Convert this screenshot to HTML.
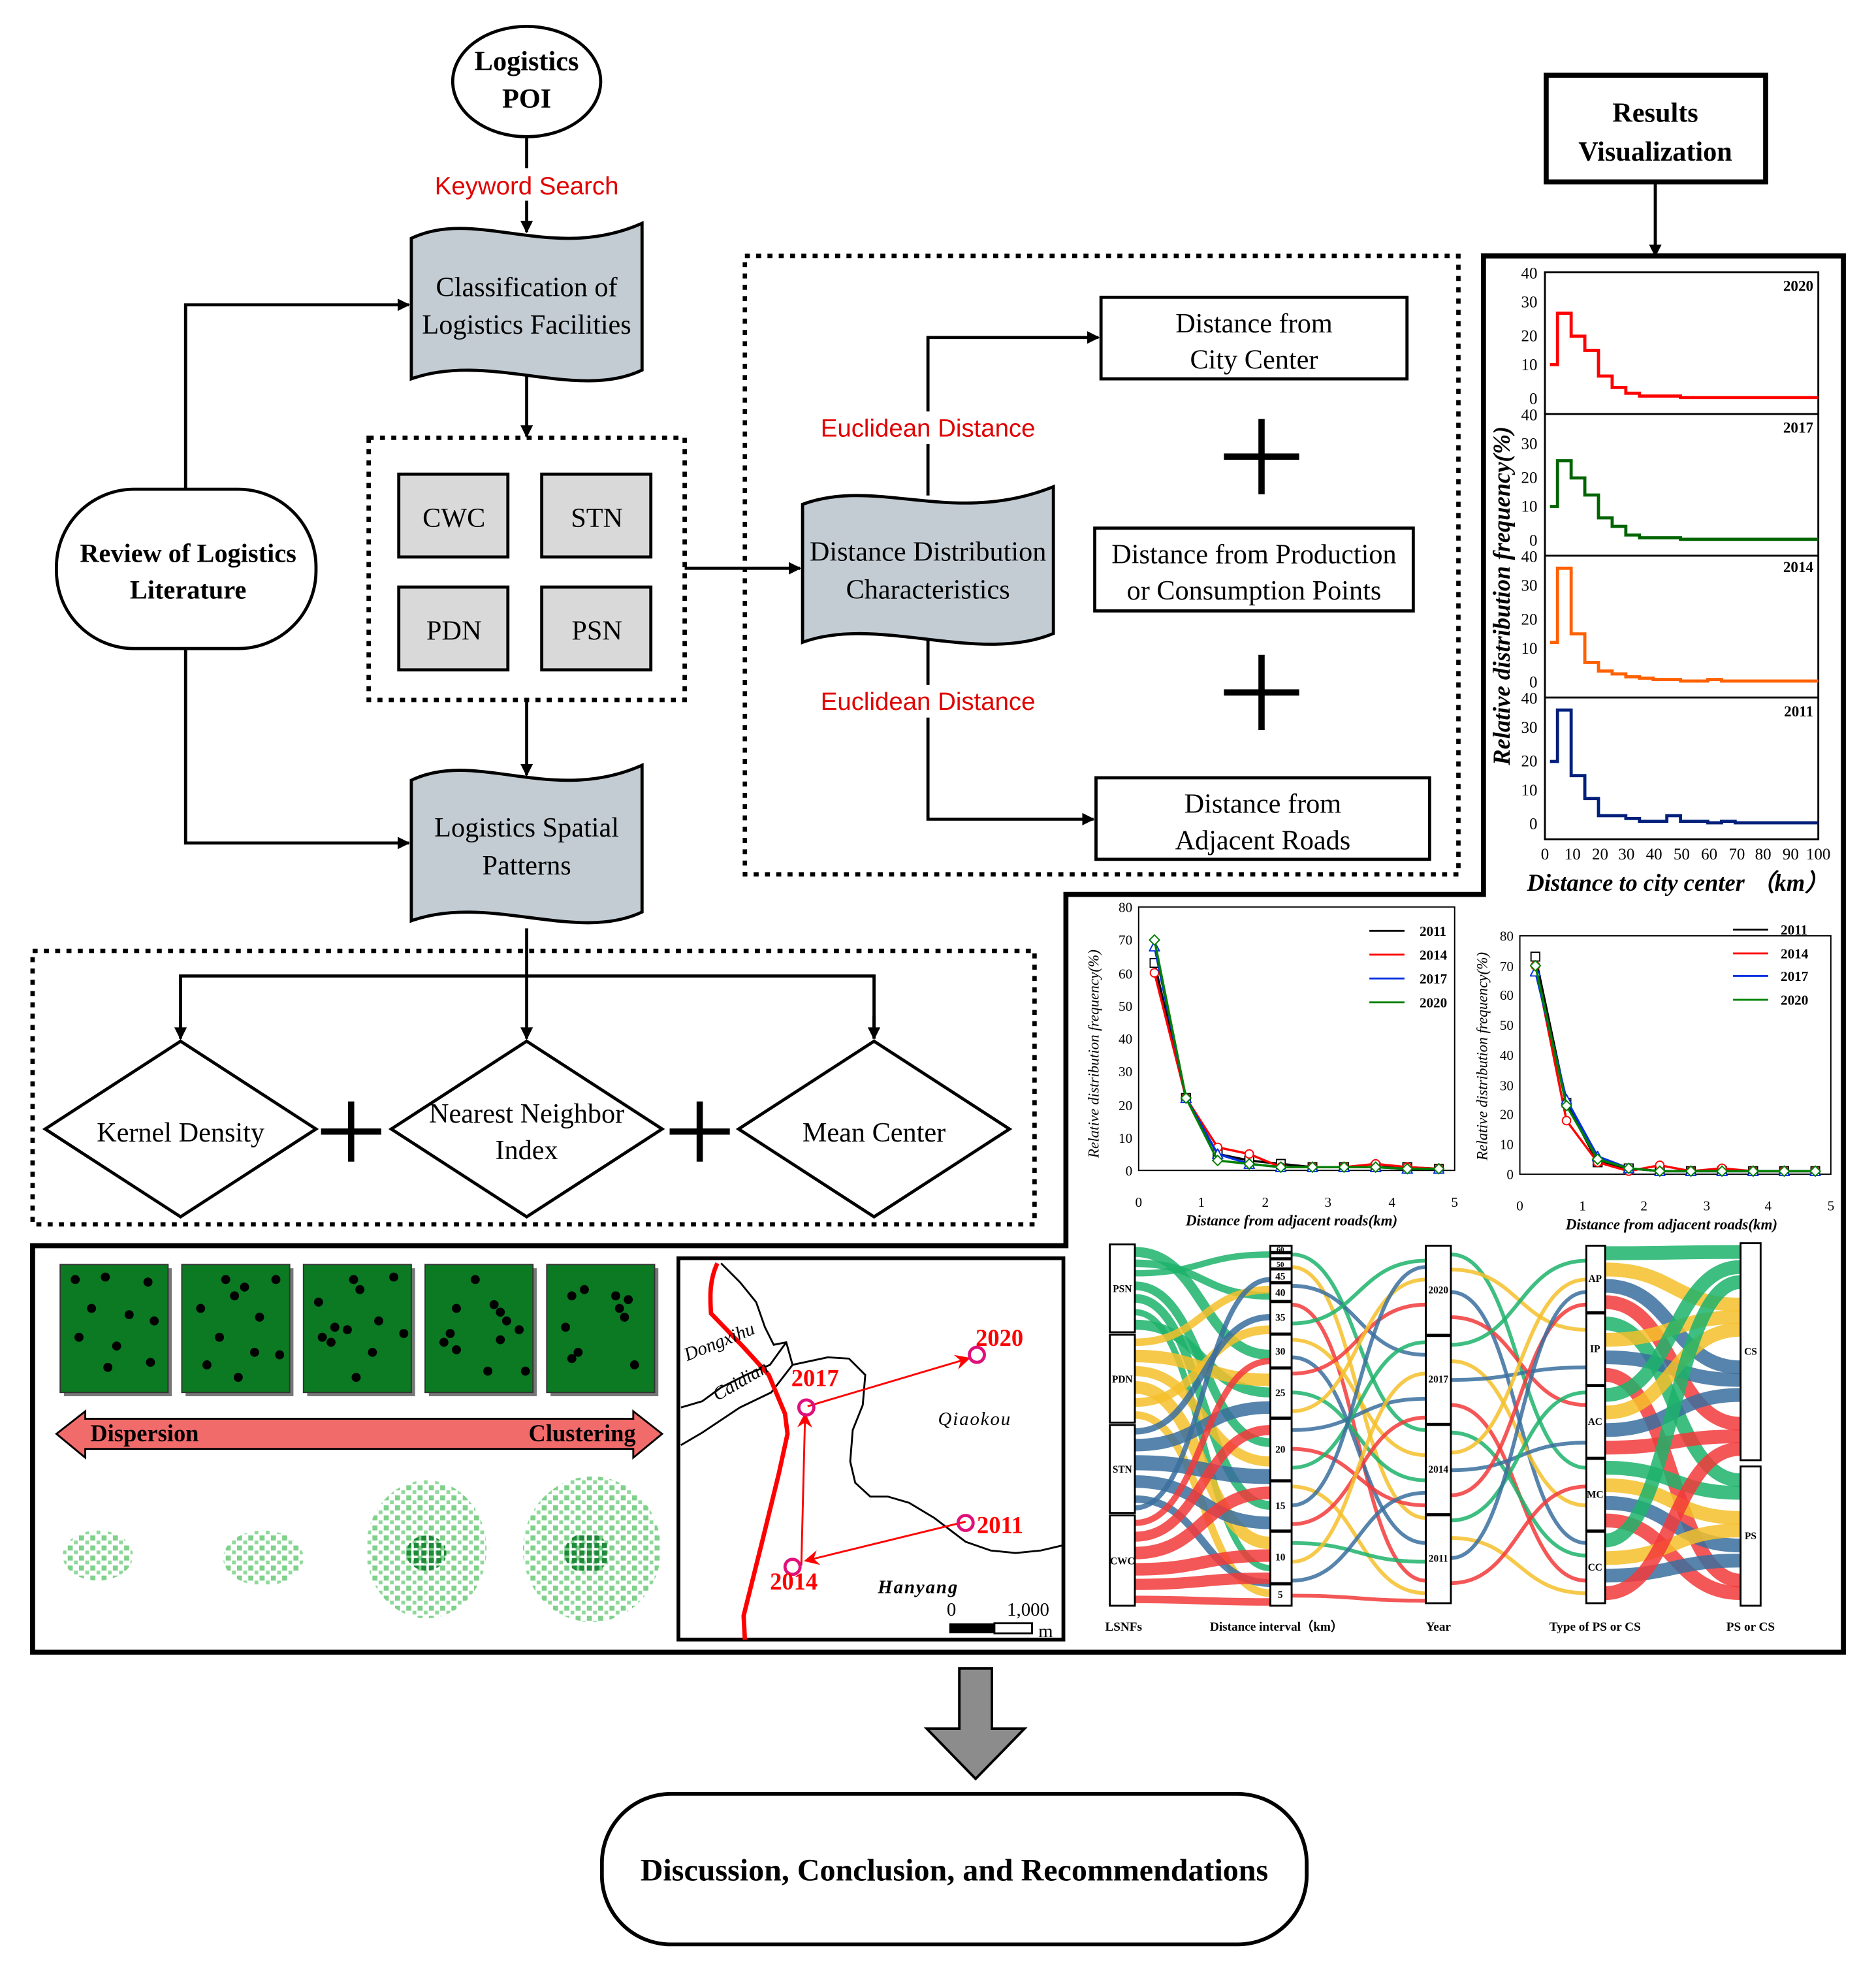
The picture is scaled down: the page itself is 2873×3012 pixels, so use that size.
<!DOCTYPE html>
<html><head><meta charset="utf-8"><style>
html,body{margin:0;padding:0;background:#fff}
svg{display:block}
.s{font-family:"Liberation Serif",serif}
.a{font-family:"Liberation Sans",sans-serif}
</style></head><body>
<svg width="2873" height="3012" viewBox="0 0 1496 1568" preserveAspectRatio="none" xmlns="http://www.w3.org/2000/svg">
<defs>
<marker id="ar" markerWidth="10" markerHeight="10" refX="9" refY="5" orient="auto" markerUnits="userSpaceOnUse"><path d="M0,0 L10,5 L0,10 z" fill="#000"/></marker>
<marker id="rr" markerWidth="12" markerHeight="12" refX="10" refY="6" orient="auto" markerUnits="userSpaceOnUse"><path d="M0,0 L12,6 L0,12 L4,6 z" fill="#f00"/></marker>
<marker id="mk0" markerWidth="8" markerHeight="8" refX="4" refY="4" markerUnits="userSpaceOnUse"><rect x="0.5" y="0.5" width="7" height="7" fill="#fff" stroke="#000"/></marker>
<marker id="mk1" markerWidth="8" markerHeight="8" refX="4" refY="4" markerUnits="userSpaceOnUse"><circle cx="4" cy="4" r="3.3" fill="#fff" stroke="#f00"/></marker>
<marker id="mk2" markerWidth="9" markerHeight="9" refX="4.5" refY="4.5" markerUnits="userSpaceOnUse"><path d="M4.5,0.5 L8.5,8 L0.5,8 Z" fill="#fff" stroke="#0030e0"/></marker>
<marker id="mk3" markerWidth="9" markerHeight="9" refX="4.5" refY="4.5" markerUnits="userSpaceOnUse"><path d="M4.5,0.5 L8.5,4.5 L4.5,8.5 L0.5,4.5 Z" fill="#fff" stroke="#008000"/></marker>
<pattern id="lg" width="9" height="8" patternUnits="userSpaceOnUse"><rect x="0" y="0" width="4" height="4" fill="#7fd08a"/><rect x="5" y="4" width="3" height="3" fill="#8fd99a"/></pattern>
<pattern id="dg" width="6" height="6" patternUnits="userSpaceOnUse"><rect x="0" y="0" width="4" height="4" fill="#1f8a3a"/></pattern>
</defs>
<rect width="1496" height="1568" fill="#fff"/>
<g class="s" fill="none" stroke="#000" stroke-width="2.5">
<ellipse cx="420" cy="65" rx="59" ry="44" fill="#fff"/>
<line x1="420" y1="110" x2="420" y2="185" marker-end="url(#ar)"/>
<path d="M328,190 C380,165 440,210 512,178 L512,295 C460,320 390,280 328,302 Z" fill="#c3ccd3"/>
<line x1="420" y1="300" x2="420" y2="348" marker-end="url(#ar)"/>
<rect x="45" y="390" width="207" height="127" rx="62" fill="#fff"/>
<polyline points="148,390 148,243 326,243" marker-end="url(#ar)"/>
<polyline points="148,517 148,672 326,672" marker-end="url(#ar)"/>
<rect x="294" y="349" width="252" height="209" stroke-dasharray="4,5" stroke-width="3.5"/>
<rect x="318" y="378" width="87" height="66" fill="#d9d9d9"/>
<rect x="432" y="378" width="87" height="66" fill="#d9d9d9"/>
<rect x="318" y="468" width="87" height="66" fill="#d9d9d9"/>
<rect x="432" y="468" width="87" height="66" fill="#d9d9d9"/>
<line x1="546" y1="453" x2="638" y2="453" marker-end="url(#ar)"/>
<line x1="420" y1="558" x2="420" y2="618" marker-end="url(#ar)"/>
<path d="M328,622 C380,597 440,642 512,610 L512,727 C460,752 390,712 328,734 Z" fill="#c3ccd3"/>
<rect x="594" y="204" width="569" height="493" stroke-dasharray="4,5" stroke-width="3.5"/>
<path d="M640,402 C700,380 760,420 840,388 L840,505 C780,530 700,490 640,512 Z" fill="#c3ccd3"/>
<polyline points="740,395 740,269 876,269" marker-end="url(#ar)"/>
<polyline points="740,510 740,653 872,653" marker-end="url(#ar)"/>
<rect x="878" y="237" width="244" height="65"/>
<rect x="873" y="421" width="254" height="66"/>
<rect x="874" y="620" width="266" height="65"/>
<g stroke-width="5"><line x1="976" y1="364" x2="1036" y2="364"/><line x1="1006" y1="334" x2="1006" y2="394"/>
<line x1="976" y1="552" x2="1036" y2="552"/><line x1="1006" y1="522" x2="1006" y2="582"/>
<line x1="256" y1="902" x2="304" y2="902"/><line x1="280" y1="878" x2="280" y2="926"/>
<line x1="534" y1="902" x2="582" y2="902"/><line x1="558" y1="878" x2="558" y2="926"/></g>
<rect x="26" y="758" width="799" height="218" stroke-dasharray="4,5" stroke-width="3.5"/>
<line x1="420" y1="740" x2="420" y2="828" marker-end="url(#ar)"/>
<polyline points="144,828 144,778 697,778 697,828"/>
<line x1="144" y1="810" x2="144" y2="828" marker-end="url(#ar)"/>
<line x1="697" y1="810" x2="697" y2="828" marker-end="url(#ar)"/>
<path d="M144,830 L252,900 L144,970 L36,900 Z" fill="#fff"/>
<path d="M420,830 L528,900 L420,970 L312,900 Z" fill="#fff"/>
<path d="M697,830 L805,900 L697,970 L589,900 Z" fill="#fff"/>
<rect x="1233" y="60" width="175" height="85" stroke-width="4"/>
<line x1="1320" y1="145" x2="1320" y2="204" marker-end="url(#ar)"/>
<path d="M26,993 L850,993 L850,713 L1183,713 L1183,204 L1470,204 L1470,1317 L26,1317 Z" stroke-width="4"/>
<rect x="541" y="1003" width="307" height="304" stroke-width="3"/>
<path d="M765,1330 L791,1330 L791,1378 L817,1378 L778,1418 L739,1378 L765,1378 Z" fill="#8c8c8c" stroke-width="2"/>
<rect x="480" y="1430" width="562" height="120" rx="55" stroke-width="3"/>
</g>
<rect x="342" y="134" width="156" height="26" fill="#fff"/>
<rect x="655" y="328" width="170" height="26" fill="#fff"/>
<rect x="655" y="546" width="170" height="26" fill="#fff"/>
<g class="s" font-size="22" text-anchor="middle" fill="#000">
<text x="420" y="56" font-weight="bold">Logistics</text>
<text x="420" y="86" font-weight="bold">POI</text>
<text x="420" y="236">Classification of</text>
<text x="420" y="266">Logistics Facilities</text>
<text x="150" y="448" font-weight="bold" font-size="21">Review of Logistics</text>
<text x="150" y="477" font-weight="bold" font-size="21">Literature</text>
<text x="362" y="420">CWC</text><text x="476" y="420">STN</text>
<text x="362" y="510">PDN</text><text x="476" y="510">PSN</text>
<text x="420" y="667">Logistics Spatial</text>
<text x="420" y="697">Patterns</text>
<text x="740" y="447">Distance Distribution</text>
<text x="740" y="477">Characteristics</text>
<text x="1000" y="265">Distance from</text><text x="1000" y="294">City Center</text>
<text x="1000" y="449">Distance from Production</text><text x="1000" y="478">or Consumption Points</text>
<text x="1007" y="648">Distance from</text><text x="1007" y="677">Adjacent Roads</text>
<text x="144" y="910">Kernel Density</text>
<text x="420" y="895">Nearest Neighbor</text><text x="420" y="924">Index</text>
<text x="697" y="910">Mean Center</text>
<text x="1320" y="97" font-weight="bold">Results</text>
<text x="1320" y="128" font-weight="bold">Visualization</text>
<text x="761" y="1499" font-weight="bold" font-size="25">Discussion, Conclusion, and Recommendations</text>
</g>
<g class="a" font-size="20" fill="#e00000" text-anchor="middle">
<text x="420" y="155">Keyword Search</text>
<text x="740" y="348">Euclidean Distance</text>
<text x="740" y="566">Euclidean Distance</text>
</g>

<!-- histograms -->
<g fill="none" stroke="#000" stroke-width="1.5">
<rect x="1232" y="217" width="218" height="452"/>
<line x1="1232" y1="330" x2="1450" y2="330"/><line x1="1232" y1="443" x2="1450" y2="443"/><line x1="1232" y1="556" x2="1450" y2="556"/>
</g>
<g fill="none" stroke-width="2.5">
<path stroke="#f00" d="M1236,290.7 h6 V249.7 h10.9 V268 h10.9 V279.3 h10.9 V299.8 h10.9 V308.9 h10.9 V313.5 h10.9 V315.7 h32.7 V316.9 H1450"/>
<path stroke="#006400" d="M1236,403.7 h6 V367.3 h10.9 V381 h10.9 V394.6 h10.9 V412.8 h10.9 V419.6 h10.9 V426.5 h10.9 V428.7 h32.7 V429.9 H1450"/>
<path stroke="#ff6000" d="M1236,512.1 h6 V453 h10.9 V505.3 h10.9 V528.1 h10.9 V534.9 h10.9 V537.2 h10.9 V539.5 h10.9 V540.6 h10.9 V541.7 h21.8 V542.9 h21.8 V541.7 h10.9 V542.9 H1450"/>
<path stroke="#001f7a" d="M1236,607 h6 V566 h10.9 V618.3 h10.9 V636.5 h10.9 V650.2 h21.8 V652.5 h10.9 V654.7 h21.8 V650.2 h10.9 V654.7 h21.8 V655.9 h10.9 V654.7 h10.9 V655.9 H1450"/>
</g>
<g class="s" font-size="13" text-anchor="end">
<text x="1226" y="222">40</text><text x="1226" y="245">30</text><text x="1226" y="272">20</text><text x="1226" y="295">10</text><text x="1226" y="322">0</text>
<text x="1226" y="335">40</text><text x="1226" y="358">30</text><text x="1226" y="385">20</text><text x="1226" y="408">10</text><text x="1226" y="435">0</text>
<text x="1226" y="448">40</text><text x="1226" y="471">30</text><text x="1226" y="498">20</text><text x="1226" y="521">10</text><text x="1226" y="548">0</text>
<text x="1226" y="561">40</text><text x="1226" y="584">30</text><text x="1226" y="611">20</text><text x="1226" y="634">10</text><text x="1226" y="661">0</text>
</g>
<g class="s" font-size="12" font-weight="bold" text-anchor="end">
<text x="1446" y="232">2020</text><text x="1446" y="345">2017</text><text x="1446" y="456">2014</text><text x="1446" y="571">2011</text>
</g>
<g class="s" font-size="13" text-anchor="middle">
<text x="1232" y="685">0</text><text x="1254" y="685">10</text><text x="1276" y="685">20</text><text x="1297" y="685">30</text><text x="1319" y="685">40</text><text x="1341" y="685">50</text><text x="1363" y="685">60</text><text x="1385" y="685">70</text><text x="1406" y="685">80</text><text x="1428" y="685">90</text><text x="1450" y="685">100</text>
</g>
<text class="s" x="1204" y="610" font-size="19" font-weight="bold" font-style="italic" transform="rotate(-90 1204 610)">Relative distribution frequency(%)</text>
<text class="s" x="1338" y="710" font-size="19" font-weight="bold" font-style="italic" text-anchor="middle">Distance to city center （km）</text>

<!-- line chart left -->
<g class="s" font-size="11">
<rect x="908" y="723" width="252" height="210" fill="none" stroke="#000"/>
<g text-anchor="end"><text x="903" y="937">0</text><text x="903" y="911">10</text><text x="903" y="885">20</text><text x="903" y="858">30</text><text x="903" y="832">40</text><text x="903" y="806">50</text><text x="903" y="780">60</text><text x="903" y="753">70</text><text x="903" y="727">80</text></g>
<g text-anchor="middle"><text x="908" y="962">0</text><text x="958" y="962">1</text><text x="1009" y="962">2</text><text x="1059" y="962">3</text><text x="1110" y="962">4</text><text x="1160" y="962">5</text></g>
<text x="1030" y="977" text-anchor="middle" font-weight="bold" font-style="italic" font-size="12">Distance from adjacent roads(km)</text>
<text x="876" y="840" text-anchor="middle" font-style="italic" font-size="12" transform="rotate(-90 876 840)">Relative distribution frequency(%)</text>
<g fill="none" stroke-width="1.8">
<polyline stroke="#000" marker-start="url(#mk0)" marker-mid="url(#mk0)" marker-end="url(#mk0)" points="920.6,767.6 945.8,875.3 971,919.9 996.2,925.1 1021.4,927.8 1046.6,930.4 1071.8,930.4 1097,930.4 1122.2,930.4 1147.4,931.7"/>
<polyline stroke="#f00" marker-start="url(#mk1)" marker-mid="url(#mk1)" marker-end="url(#mk1)" points="920.6,775.5 945.8,875.3 971,914.6 996.2,919.9 1021.4,930.4 1046.6,930.4 1071.8,930.4 1097,927.8 1122.2,930.4 1147.4,931.7"/>
<polyline stroke="#0030e0" marker-start="url(#mk2)" marker-mid="url(#mk2)" marker-end="url(#mk2)" points="920.6,754.5 945.8,875.3 971,919.9 996.2,927.8 1021.4,930.4 1046.6,930.4 1071.8,930.4 1097,930.4 1122.2,931.7 1147.4,931.7"/>
<polyline stroke="#008000" marker-start="url(#mk3)" marker-mid="url(#mk3)" marker-end="url(#mk3)" points="920.6,749.3 945.8,875.3 971,925.1 996.2,927.8 1021.4,930.4 1046.6,930.4 1071.8,930.4 1097,930.4 1122.2,931.7 1147.4,931.7"/>
</g>
<line x1="1092" y1="742" x2="1120" y2="742" stroke="#000" stroke-width="1.5" marker-mid="url(#mk0)"/><text x="1132" y="746" font-weight="bold">2011</text>
<line x1="1092" y1="761" x2="1120" y2="761" stroke="#f00" stroke-width="1.5"/><text x="1132" y="765" font-weight="bold">2014</text>
<line x1="1092" y1="780" x2="1120" y2="780" stroke="#0030e0" stroke-width="1.5"/><text x="1132" y="784" font-weight="bold">2017</text>
<line x1="1092" y1="799" x2="1120" y2="799" stroke="#008000" stroke-width="1.5"/><text x="1132" y="803" font-weight="bold">2020</text>
</g>
<!-- line chart right -->
<g class="s" font-size="11">
<rect x="1212" y="746" width="248" height="190" fill="none" stroke="#000"/>
<g text-anchor="end"><text x="1207" y="940">0</text><text x="1207" y="916">10</text><text x="1207" y="892">20</text><text x="1207" y="869">30</text><text x="1207" y="845">40</text><text x="1207" y="821">50</text><text x="1207" y="797">60</text><text x="1207" y="774">70</text><text x="1207" y="750">80</text></g>
<g text-anchor="middle"><text x="1212" y="965">0</text><text x="1262" y="965">1</text><text x="1311" y="965">2</text><text x="1361" y="965">3</text><text x="1410" y="965">4</text><text x="1460" y="965">5</text></g>
<text x="1333" y="980" text-anchor="middle" font-weight="bold" font-style="italic" font-size="12">Distance from adjacent roads(km)</text>
<text x="1186" y="842" text-anchor="middle" font-style="italic" font-size="12" transform="rotate(-90 1186 842)">Relative distribution frequency(%)</text>
<g fill="none" stroke-width="1.8">
<polyline stroke="#000" marker-start="url(#mk0)" marker-mid="url(#mk0)" marker-end="url(#mk0)" points="1224.4,762.6 1249.2,879 1274,926.5 1298.8,931.3 1323.6,933.6 1348.4,933.6 1373.2,933.6 1398,933.6 1422.8,933.6 1447.6,933.6"/>
<polyline stroke="#f00" marker-start="url(#mk1)" marker-mid="url(#mk1)" marker-end="url(#mk1)" points="1224.4,769.8 1249.2,893.3 1274,926.5 1298.8,933.6 1323.6,928.9 1348.4,933.6 1373.2,931.3 1398,933.6 1422.8,933.6 1447.6,933.6"/>
<polyline stroke="#0030e0" marker-start="url(#mk2)" marker-mid="url(#mk2)" marker-end="url(#mk2)" points="1224.4,774.5 1249.2,876.6 1274,921.8 1298.8,931.3 1323.6,933.6 1348.4,933.6 1373.2,933.6 1398,933.6 1422.8,933.6 1447.6,933.6"/>
<polyline stroke="#008000" marker-start="url(#mk3)" marker-mid="url(#mk3)" marker-end="url(#mk3)" points="1224.4,769.8 1249.2,881.4 1274,924.1 1298.8,931.3 1323.6,933.6 1348.4,933.6 1373.2,933.6 1398,933.6 1422.8,933.6 1447.6,933.6"/>
</g>
<line x1="1382" y1="741" x2="1410" y2="741" stroke="#000" stroke-width="1.5"/><text x="1420" y="745" font-weight="bold">2011</text>
<line x1="1382" y1="760" x2="1410" y2="760" stroke="#f00" stroke-width="1.5"/><text x="1420" y="764" font-weight="bold">2014</text>
<line x1="1382" y1="778" x2="1410" y2="778" stroke="#0030e0" stroke-width="1.5"/><text x="1420" y="782" font-weight="bold">2017</text>
<line x1="1382" y1="797" x2="1410" y2="797" stroke="#008000" stroke-width="1.5"/><text x="1420" y="801" font-weight="bold">2020</text>
</g>

<!-- sankey -->
<g fill="none" stroke-opacity="0.85">
<g stroke="#1db36b">
<path stroke-width="8" d="M905,998 C959,998 959,1080 1013,1080"/>
<path stroke-width="6" d="M905,1007 C959,1007 959,1033 1013,1033"/>
<path stroke-width="5" d="M905,1015 C959,1015 959,1000 1013,1000"/>
<path stroke-width="7" d="M905,1025 C959,1025 959,1150 1013,1150"/>
<path stroke-width="7" d="M905,1035 C959,1035 959,1200 1013,1200"/>
<path stroke-width="5" d="M905,1046 C959,1046 959,1250 1013,1250"/>
<path stroke-width="8" d="M905,1056 C959,1056 959,1110 1013,1110"/>
</g>
<g stroke="#f5c02a">
<path stroke-width="6" d="M905,1070 C959,1070 959,1028 1013,1028"/>
<path stroke-width="10" d="M905,1081 C959,1081 959,1100 1013,1100"/>
<path stroke-width="8" d="M905,1093 C959,1093 959,1165 1013,1165"/>
<path stroke-width="10" d="M905,1106 C959,1106 959,1230 1013,1230"/>
<path stroke-width="7" d="M905,1118 C959,1118 959,1060 1013,1060"/>
<path stroke-width="6" d="M905,1128 C959,1128 959,1270 1013,1270"/>
</g>
<g stroke="#3a6e9e">
<path stroke-width="5" d="M905,1141 C959,1141 959,1050 1013,1050"/>
<path stroke-width="10" d="M905,1152 C959,1152 959,1122 1013,1122"/>
<path stroke-width="12" d="M905,1166 C959,1166 959,1177 1013,1177"/>
<path stroke-width="10" d="M905,1181 C959,1181 959,1214 1013,1214"/>
<path stroke-width="6" d="M905,1195 C959,1195 959,1262 1013,1262"/>
<path stroke-width="4" d="M905,1202 C959,1202 959,1020 1013,1020"/>
</g>
<g stroke="#f23a3a">
<path stroke-width="5" d="M905,1214 C959,1214 959,1085 1013,1085"/>
<path stroke-width="8" d="M905,1225 C959,1225 959,1140 1013,1140"/>
<path stroke-width="10" d="M905,1238 C959,1238 959,1190 1013,1190"/>
<path stroke-width="10" d="M905,1251 C959,1251 959,1240 1013,1240"/>
<path stroke-width="9" d="M905,1263 C959,1263 959,1258 1013,1258"/>
<path stroke-width="6" d="M905,1275 C959,1275 959,1277 1013,1277"/>
</g>
<g stroke-width="3">
<path stroke="#1db36b" d="M1030,1000 C1083,1000 1083,1140 1137,1140"/>
<path stroke="#f5c02a" d="M1030,1010 C1083,1010 1083,1210 1137,1210"/>
<path stroke="#3a6e9e" d="M1030,1025 C1083,1025 1083,1080 1137,1080"/>
<path stroke="#f23a3a" d="M1030,1040 C1083,1040 1083,1260 1137,1260"/>
<path stroke="#1db36b" d="M1030,1055 C1083,1055 1083,1005 1137,1005"/>
<path stroke="#f5c02a" d="M1030,1068 C1083,1068 1083,1160 1137,1160"/>
<path stroke="#3a6e9e" d="M1030,1082 C1083,1082 1083,1230 1137,1230"/>
<path stroke="#f23a3a" d="M1030,1095 C1083,1095 1083,1040 1137,1040"/>
<path stroke="#1db36b" d="M1030,1110 C1083,1110 1083,1180 1137,1180"/>
<path stroke="#f5c02a" d="M1030,1125 C1083,1125 1083,1020 1137,1020"/>
<path stroke="#3a6e9e" d="M1030,1140 C1083,1140 1083,1115 1137,1115"/>
<path stroke="#f23a3a" d="M1030,1155 C1083,1155 1083,1200 1137,1200"/>
<path stroke="#1db36b" d="M1030,1170 C1083,1170 1083,1070 1137,1070"/>
<path stroke="#f5c02a" d="M1030,1185 C1083,1185 1083,1270 1137,1270"/>
<path stroke="#3a6e9e" d="M1030,1200 C1083,1200 1083,1010 1137,1010"/>
<path stroke="#f23a3a" d="M1030,1215 C1083,1215 1083,1130 1137,1130"/>
<path stroke="#1db36b" d="M1030,1230 C1083,1230 1083,1245 1137,1245"/>
<path stroke="#f5c02a" d="M1030,1245 C1083,1245 1083,1095 1137,1095"/>
<path stroke="#3a6e9e" d="M1030,1260 C1083,1260 1083,1190 1137,1190"/>
<path stroke="#f23a3a" d="M1030,1272 C1083,1272 1083,1276 1137,1276"/>
<path stroke="#1db36b" d="M1157,1000 C1211,1000 1211,1170 1265,1170"/>
<path stroke="#f5c02a" d="M1157,1012 C1211,1012 1211,1060 1265,1060"/>
<path stroke="#3a6e9e" d="M1157,1030 C1211,1030 1211,1230 1265,1230"/>
<path stroke="#f23a3a" d="M1157,1050 C1211,1050 1211,1120 1265,1120"/>
<path stroke="#1db36b" d="M1157,1072 C1211,1072 1211,1005 1265,1005"/>
<path stroke="#f5c02a" d="M1157,1085 C1211,1085 1211,1200 1265,1200"/>
<path stroke="#3a6e9e" d="M1157,1100 C1211,1100 1211,1090 1265,1090"/>
<path stroke="#f23a3a" d="M1157,1120 C1211,1120 1211,1260 1265,1260"/>
<path stroke="#1db36b" d="M1157,1142 C1211,1142 1211,1240 1265,1240"/>
<path stroke="#f5c02a" d="M1157,1158 C1211,1158 1211,1020 1265,1020"/>
<path stroke="#3a6e9e" d="M1157,1172 C1211,1172 1211,1150 1265,1150"/>
<path stroke="#f23a3a" d="M1157,1192 C1211,1192 1211,1040 1265,1040"/>
<path stroke="#1db36b" d="M1157,1212 C1211,1212 1211,1110 1265,1110"/>
<path stroke="#f5c02a" d="M1157,1226 C1211,1226 1211,1270 1265,1270"/>
<path stroke="#3a6e9e" d="M1157,1242 C1211,1242 1211,1030 1265,1030"/>
<path stroke="#f23a3a" d="M1157,1262 C1211,1262 1211,1185 1265,1185"/>
</g>
<g stroke-width="11">
<path stroke="#1db36b" d="M1280,999 C1334,999 1334,998 1388,998"/>
<path stroke="#f5c02a" d="M1280,1012 C1334,1012 1334,1040 1388,1040"/>
<path stroke="#3a6e9e" d="M1280,1025 C1334,1025 1334,1090 1388,1090"/>
<path stroke="#f23a3a" d="M1280,1038 C1334,1038 1334,1135 1388,1135"/>
<path stroke="#1db36b" d="M1280,1055 C1334,1055 1334,1180 1388,1180"/>
<path stroke="#f5c02a" d="M1280,1068 C1334,1068 1334,1050 1388,1050"/>
<path stroke="#3a6e9e" d="M1280,1082 C1334,1082 1334,1100 1388,1100"/>
<path stroke="#f23a3a" d="M1280,1096 C1334,1096 1334,1260 1388,1260"/>
<path stroke="#1db36b" d="M1280,1112 C1334,1112 1334,1010 1388,1010"/>
<path stroke="#f5c02a" d="M1280,1126 C1334,1126 1334,1060 1388,1060"/>
<path stroke="#3a6e9e" d="M1280,1140 C1334,1140 1334,1112 1388,1112"/>
<path stroke="#f23a3a" d="M1280,1154 C1334,1154 1334,1145 1388,1145"/>
<path stroke="#1db36b" d="M1280,1170 C1334,1170 1334,1190 1388,1190"/>
<path stroke="#f5c02a" d="M1280,1184 C1334,1184 1334,1210 1388,1210"/>
<path stroke="#3a6e9e" d="M1280,1198 C1334,1198 1334,1232 1388,1232"/>
<path stroke="#f23a3a" d="M1280,1212 C1334,1212 1334,1270 1388,1270"/>
<path stroke="#1db36b" d="M1280,1228 C1334,1228 1334,1022 1388,1022"/>
<path stroke="#f5c02a" d="M1280,1242 C1334,1242 1334,1220 1388,1220"/>
<path stroke="#3a6e9e" d="M1280,1256 C1334,1256 1334,1244 1388,1244"/>
<path stroke="#f23a3a" d="M1280,1270 C1334,1270 1334,1155 1388,1155"/>
</g>
</g>
<g fill="#fff" stroke="#000" stroke-width="1.5">
<rect x="885" y="992" width="20" height="70"/><rect x="885" y="1064" width="20" height="70"/><rect x="885" y="1136" width="20" height="70"/><rect x="885" y="1208" width="20" height="72"/>
<rect x="1013" y="993" width="17" height="5"/><rect x="1013" y="999" width="17" height="4"/><rect x="1013" y="1004" width="17" height="7"/><rect x="1013" y="1012" width="17" height="10"/><rect x="1013" y="1023" width="17" height="14"/><rect x="1013" y="1038" width="17" height="25"/><rect x="1013" y="1064" width="17" height="26"/><rect x="1013" y="1091" width="17" height="39"/><rect x="1013" y="1131" width="17" height="49"/><rect x="1013" y="1181" width="17" height="39"/><rect x="1013" y="1221" width="17" height="41"/><rect x="1013" y="1263" width="17" height="17"/>
<rect x="1137" y="993" width="20" height="71"/><rect x="1137" y="1065" width="20" height="70"/><rect x="1137" y="1136" width="20" height="71"/><rect x="1137" y="1208" width="20" height="70"/>
<rect x="1265" y="993" width="15" height="53"/><rect x="1265" y="1047" width="15" height="57"/><rect x="1265" y="1105" width="15" height="57"/><rect x="1265" y="1163" width="15" height="57"/><rect x="1265" y="1221" width="15" height="57"/>
<rect x="1388" y="991" width="16" height="173"/><rect x="1388" y="1169" width="16" height="111"/>
</g>
<g class="s" font-size="8" font-weight="bold" text-anchor="middle">
<text x="895" y="1030">PSN</text><text x="895" y="1102">PDN</text><text x="895" y="1174">STN</text><text x="895" y="1247">CWC</text>
<text x="1021" y="998" font-size="6">60</text><text x="1021" y="1010" font-size="6">50</text><text x="1021" y="1020">45</text><text x="1021" y="1033">40</text><text x="1021" y="1053">35</text><text x="1021" y="1080">30</text><text x="1021" y="1113">25</text><text x="1021" y="1158">20</text><text x="1021" y="1203">15</text><text x="1021" y="1244">10</text><text x="1021" y="1274">5</text>
<text x="1147" y="1031">2020</text><text x="1147" y="1102">2017</text><text x="1147" y="1174">2014</text><text x="1147" y="1245">2011</text>
<text x="1272" y="1022">AP</text><text x="1272" y="1078">IP</text><text x="1272" y="1136">AC</text><text x="1272" y="1194">MC</text><text x="1272" y="1252">CC</text>
<text x="1396" y="1080">CS</text><text x="1396" y="1227">PS</text>
</g>
<g class="s" font-size="10" font-weight="bold" text-anchor="middle">
<text x="896" y="1300">LSNFs</text><text x="1018" y="1300">Distance interval（km）</text><text x="1147" y="1300">Year</text><text x="1272" y="1300">Type of PS or CS</text><text x="1396" y="1300">PS or CS</text>
</g>

<!-- green squares -->
<g fill="#777"><rect x="51" y="1011" width="86" height="102"/><rect x="148" y="1011" width="86" height="102"/><rect x="245" y="1011" width="86" height="102"/><rect x="342" y="1011" width="86" height="102"/><rect x="439" y="1011" width="86" height="102"/></g>
<g fill="#0b7a22" stroke="#333"><rect x="48" y="1008" width="86" height="102"/><rect x="145" y="1008" width="86" height="102"/><rect x="242" y="1008" width="86" height="102"/><rect x="339" y="1008" width="86" height="102"/><rect x="436" y="1008" width="86" height="102"/></g>
<g fill="#000">
<circle cx="60" cy="1020" r="3.6"/><circle cx="84" cy="1018" r="3.6"/><circle cx="118" cy="1022" r="3.6"/><circle cx="73" cy="1043" r="3.6"/><circle cx="103" cy="1048" r="3.6"/><circle cx="123" cy="1053" r="3.6"/><circle cx="63" cy="1066" r="3.6"/><circle cx="93" cy="1073" r="3.6"/><circle cx="120" cy="1086" r="3.6"/><circle cx="86" cy="1090" r="3.6"/>
<circle cx="180" cy="1020" r="3.6"/><circle cx="195" cy="1026" r="3.6"/><circle cx="187" cy="1033" r="3.6"/><circle cx="220" cy="1020" r="3.6"/><circle cx="160" cy="1043" r="3.6"/><circle cx="207" cy="1050" r="3.6"/><circle cx="175" cy="1066" r="3.6"/><circle cx="203" cy="1078" r="3.6"/><circle cx="165" cy="1088" r="3.6"/><circle cx="223" cy="1080" r="3.6"/><circle cx="190" cy="1098" r="3.6"/>
<circle cx="282" cy="1020" r="3.6"/><circle cx="287" cy="1028" r="3.6"/><circle cx="254" cy="1038" r="3.6"/><circle cx="314" cy="1018" r="3.6"/><circle cx="267" cy="1058" r="3.6"/><circle cx="277" cy="1060" r="3.6"/><circle cx="257" cy="1066" r="3.6"/><circle cx="302" cy="1053" r="3.6"/><circle cx="264" cy="1070" r="3.6"/><circle cx="322" cy="1063" r="3.6"/><circle cx="297" cy="1078" r="3.6"/><circle cx="284" cy="1098" r="3.6"/>
<circle cx="379" cy="1020" r="3.6"/><circle cx="364" cy="1043" r="3.6"/><circle cx="394" cy="1040" r="3.6"/><circle cx="399" cy="1046" r="3.6"/><circle cx="404" cy="1053" r="3.6"/><circle cx="359" cy="1063" r="3.6"/><circle cx="354" cy="1070" r="3.6"/><circle cx="364" cy="1076" r="3.6"/><circle cx="399" cy="1068" r="3.6"/><circle cx="414" cy="1060" r="3.6"/><circle cx="389" cy="1093" r="3.6"/><circle cx="419" cy="1093" r="3.6"/>
<circle cx="456" cy="1033" r="3.6"/><circle cx="466" cy="1028" r="3.6"/><circle cx="491" cy="1033" r="3.6"/><circle cx="501" cy="1036" r="3.6"/><circle cx="494" cy="1043" r="3.6"/><circle cx="498" cy="1050" r="3.6"/><circle cx="451" cy="1058" r="3.6"/><circle cx="461" cy="1078" r="3.6"/><circle cx="456" cy="1083" r="3.6"/><circle cx="506" cy="1088" r="3.6"/>
</g>
<path d="M45,1143 L68,1125 L68,1131 L505,1131 L505,1125 L528,1143 L505,1162 L505,1155 L68,1155 L68,1162 Z" fill="#f26b6b" stroke="#000" stroke-width="1.5"/>
<text class="s" x="72" y="1149" font-size="19" font-weight="bold">Dispersion</text>
<text class="s" x="507" y="1149" font-size="19" font-weight="bold" text-anchor="end">Clustering</text>
<!-- scatter clusters -->
<ellipse cx="78" cy="1240" rx="28" ry="20" fill="url(#lg)"/>
<ellipse cx="210" cy="1242" rx="32" ry="22" fill="url(#lg)"/>
<ellipse cx="340" cy="1235" rx="48" ry="55" fill="url(#lg)"/>
<ellipse cx="340" cy="1238" rx="16" ry="14" fill="url(#dg)"/>
<ellipse cx="472" cy="1235" rx="55" ry="58" fill="url(#lg)"/>
<ellipse cx="468" cy="1238" rx="18" ry="16" fill="url(#dg)"/>
<!-- map -->
<g fill="none" stroke="#000" stroke-width="1.5">
<path d="M575,1007 L590,1022 L603,1038 L610,1058 L617,1072 L627,1070 L632,1088 L660,1082 L677,1083 L690,1096 L688,1120 L680,1140 L678,1165 L682,1182 L694,1193 L708,1193 L725,1198 L745,1210 L770,1229 L790,1236 L810,1238 L830,1236 L847,1232"/>
<path d="M543,1122 L560,1117 L575,1106 L597,1095 L614,1088 L627,1070"/>
<path d="M543,1152 L560,1142 L590,1122 L615,1110 L632,1088"/>
</g>
<path d="M572,1007 C566,1020 566,1032 567,1047 L593,1074 L613,1096 L626,1127 L628,1143 L621,1175 L608,1228 L593,1288 L594,1307" fill="none" stroke="#f00" stroke-width="3.5"/>
<g stroke="#f00" stroke-width="1.5" fill="none">
<line x1="644" y1="1121" x2="772" y2="1083" marker-end="url(#rr)"/>
<line x1="639" y1="1248" x2="642" y2="1128" marker-end="url(#rr)"/>
<line x1="770" y1="1213" x2="643" y2="1244" marker-end="url(#rr)"/>
</g>
<g fill="none" stroke="#e0107a" stroke-width="2.5">
<circle cx="643" cy="1122" r="6"/><circle cx="779" cy="1080" r="6"/><circle cx="770" cy="1214" r="6"/><circle cx="632" cy="1249" r="6"/>
</g>
<g class="s" fill="#f00" font-weight="bold" font-size="19">
<text x="778" y="1073">2020</text><text x="631" y="1105">2017</text><text x="779" y="1222">2011</text><text x="614" y="1267">2014</text>
</g>
<g class="s" font-style="italic" font-size="15" fill="#000">
<text x="748" y="1136" letter-spacing="1">Qiaokou</text>
<text x="700" y="1270" font-weight="bold" letter-spacing="1">Hanyang</text>
<text x="548" y="1085" transform="rotate(-22 548 1085)">Dongxihu</text>
<text x="572" y="1117" transform="rotate(-30 572 1117)">Caidian</text>
<text x="755" y="1288" font-style="normal">0</text><text x="803" y="1288" font-style="normal">1,000</text>
<text x="828" y="1305" font-style="normal">m</text>
</g>
<rect x="757" y="1294" width="36" height="8" fill="#000"/><rect x="793" y="1294" width="30" height="8" fill="#fff" stroke="#000" stroke-width="1.5"/>
</svg>
</body></html>
